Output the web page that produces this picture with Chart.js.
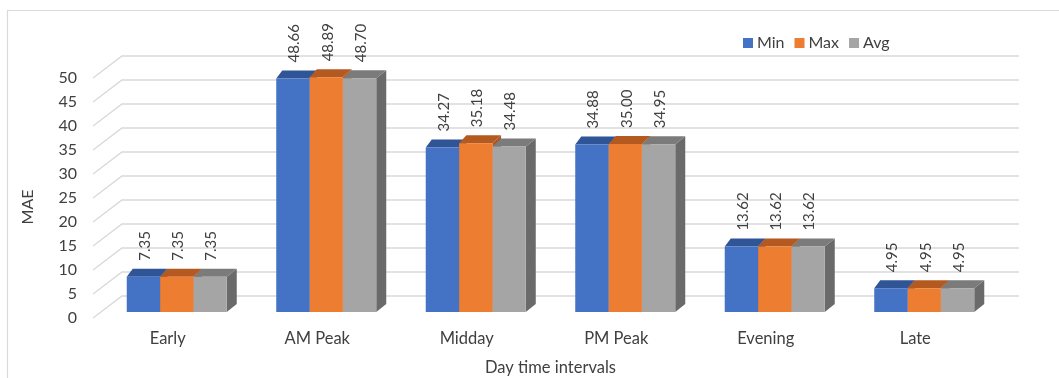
<!DOCTYPE html>
<html>
<head>
<meta charset="utf-8">
<script src="https://cdn.jsdelivr.net/npm/chart.js@4.4.0/dist/chart.umd.min.js"></script>
<style>
  html, body { margin: 0; padding: 0; background: #ffffff; overflow: hidden; }
  canvas { display: block; }
</style>
</head>
<body>
<canvas id="chart" width="1059" height="378"></canvas>
<script>
// Day time intervals and MAE per statistic
const categories = ['Early', 'AM Peak', 'Midday', 'PM Peak', 'Evening', 'Late'];
const minValues = [7.35, 48.66, 34.27, 34.88, 13.62, 4.95];
const maxValues = [7.35, 48.89, 35.18, 35.00, 13.62, 4.95];
const avgValues = [7.35, 48.70, 34.48, 34.95, 13.62, 4.95];
const seriesNames = ['Min', 'Max', 'Avg'];
const yMin = 0, yMax = 50, yStep = 5;

const FONT = 'Lato, "Open Sans", sans-serif';
const TEXT = '#404040';
const frontColors = ['#4472C4', '#ED7D31', '#A5A5A5'];
const topColors   = ['#2F5597', '#B4591F', '#7B7B7B'];
const sideColors  = ['#2F5597', '#AE5620', '#6A6A6A'];

// Extruded-box look: top and right faces plus a back wall with a sloped floor edge
const DEPTH_Y = 8;
const box3d = {
  id: 'box3d',
  beforeDatasetsDraw(chart) {
    const { ctx, chartArea } = chart;
    const y = chart.scales.y;
    ctx.save();
    // outer frame
    ctx.strokeStyle = '#d9d9d9';
    ctx.lineWidth = 1.2;
    ctx.beginPath();
    ctx.moveTo(7.5, 380); ctx.lineTo(7.5, 10.5); ctx.lineTo(1060, 10.5);
    ctx.stroke();

    // back wall grid lines with the slanted side-wall stubs
    ctx.strokeStyle = '#d9d9d9';
    ctx.lineWidth = 1.4;
    const xFront = chartArea.left - 9;
    const xBack = chartArea.left + 20;
    const xRight = chartArea.right + 20;
    y.ticks.forEach(t => {
      const p = y.getPixelForValue(t.value);
      ctx.beginPath();
      ctx.moveTo(xFront, p + 6);
      ctx.lineTo(xBack, p - 16);
      ctx.lineTo(xRight, p - 16);
      ctx.stroke();
    });

    // top and side faces, left to right so nearer faces overlap correctly
    const metas = [0, 1, 2].map(i => chart.getDatasetMeta(i));
    categories.forEach((_, ci) => {
      const first = metas[0].data[ci].getProps(['x', 'width'], true);
      const last = metas[2].data[ci].getProps(['x', 'width'], true);
      const gL = first.x - first.width / 2;
      const gR = last.x + last.width / 2;
      const dxAt = x => 6 + 4 * (x - gL) / (gR - gL);
      metas.forEach((meta, di) => {
        const b = meta.data[ci].getProps(['x', 'y', 'base', 'width'], true);
        const x0 = b.x - b.width / 2, x1 = b.x + b.width / 2;
        const top = b.y, bottom = b.base;
        const d0 = dxAt(x0), d1 = dxAt(x1);
        ctx.fillStyle = sideColors[di];
        ctx.beginPath();
        ctx.moveTo(x1, top);
        ctx.lineTo(x1 + d1, top - DEPTH_Y);
        ctx.lineTo(x1 + d1, bottom - DEPTH_Y);
        ctx.lineTo(x1, bottom);
        ctx.closePath();
        ctx.fill();
        ctx.fillStyle = topColors[di];
        ctx.beginPath();
        ctx.moveTo(x0, top);
        ctx.lineTo(x1, top);
        ctx.lineTo(x1 + d1, top - DEPTH_Y);
        ctx.lineTo(x0 + d0, top - DEPTH_Y);
        ctx.closePath();
        ctx.fill();
      });
    });
    ctx.restore();
  },
  afterDatasetsDraw(chart) {
    const { ctx } = chart;
    ctx.save();
    ctx.fillStyle = TEXT;
    ctx.font = '15px ' + FONT;
    ctx.textAlign = 'left';
    ctx.textBaseline = 'middle';
    chart.data.datasets.forEach((ds, di) => {
      chart.getDatasetMeta(di).data.forEach((bar, i) => {
        const p = bar.getProps(['x', 'y'], true);
        ctx.save();
        ctx.translate(p.x + 1.5, p.y - 16);
        ctx.rotate(-Math.PI / 2);
        ctx.fillText(ds.data[i].toFixed(2), 0, 0);
        ctx.restore();
      });
    });
    ctx.restore();
  },
  afterDraw(chart) {
    const { ctx } = chart;
    ctx.save();
    // vertical axis title
    ctx.fillStyle = TEXT;
    ctx.font = '16px ' + FONT;
    ctx.textAlign = 'center';
    ctx.textBaseline = 'middle';
    ctx.translate(27.5, 207);
    ctx.rotate(-Math.PI / 2);
    ctx.fillText('MAE', 0, 0);
    ctx.restore();

    // legend
    ctx.save();
    ctx.font = '16px ' + FONT;
    ctx.textBaseline = 'middle';
    ctx.textAlign = 'left';
    let lx = 743;
    const ly = 43;
    seriesNames.forEach((name, i) => {
      ctx.fillStyle = frontColors[i];
      ctx.fillRect(lx, ly - 5, 10, 10);
      ctx.fillStyle = TEXT;
      ctx.fillText(name, lx + 14, ly);
      lx += 14 + ctx.measureText(name).width + 10;
    });
    ctx.restore();
  }
};

const datasets = [minValues, maxValues, avgValues].map((vals, i) => ({
  label: seriesNames[i],
  data: vals,
  backgroundColor: frontColors[i],
  borderWidth: 0,
  categoryPercentage: 0.669,
  barPercentage: 1.0
}));

new Chart(document.getElementById('chart'), {
  type: 'bar',
  data: { labels: categories, datasets },
  plugins: [box3d],
  options: {
    responsive: false,
    animation: false,
    devicePixelRatio: 1,
    layout: { padding: { top: 72, right: 60, bottom: 0, left: 0 } },
    plugins: {
      legend: { display: false },
      tooltip: { enabled: false }
    },
    scales: {
      x: {
        grid: { display: false, drawTicks: false },
        border: { display: false },
        ticks: {
          font: { family: FONT, size: 16.5 },
          color: TEXT,
          padding: 17,
          labelOffset: -9,
          maxRotation: 0
        },
        title: {
          display: true,
          text: 'Day time intervals',
          font: { family: FONT, size: 16.5 },
          color: TEXT,
          padding: { top: 0, bottom: 0 }
        },
        afterFit(scale) { scale.height = 66; }
      },
      y: {
        min: yMin,
        max: yMax,
        grid: { display: false, drawTicks: false },
        border: { display: false },
        ticks: {
          stepSize: yStep,
          font: { family: FONT, size: 16 },
          color: TEXT,
          padding: 25,
          labelOffset: 6
        },
        afterFit(scale) { scale.width = 102; }
      }
    }
  }
});
</script>
</body>
</html>
